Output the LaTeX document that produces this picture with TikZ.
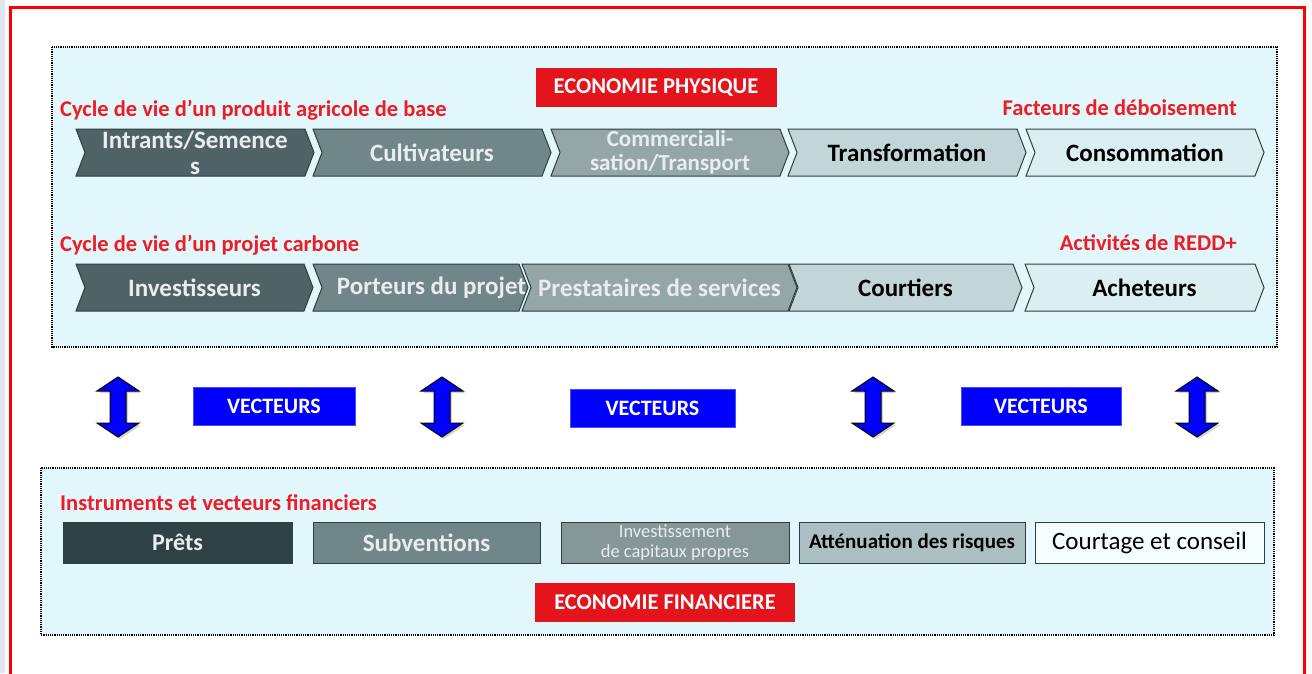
\documentclass[tikz,border=0pt]{standalone}
\usepackage{fontspec}
\setmainfont{Carlito}
\usetikzlibrary{shapes.symbols,shadows}

\definecolor{zoneblue}{HTML}{E1F7FC}
\definecolor{titlered}{HTML}{E3141B}
\definecolor{labelred}{HTML}{EE1C25}
\definecolor{stripblue}{HTML}{DDE5EF}
\definecolor{stepA}{HTML}{4F6266}
\definecolor{stepB}{HTML}{718689}
\definecolor{stepC}{HTML}{95A6A8}
\definecolor{stepD}{HTML}{C2D5D9}
\definecolor{stepE}{HTML}{DBEEF2}
\definecolor{edgegray}{HTML}{2F3E40}
\definecolor{paletext}{HTML}{E8EEF0}
\definecolor{finA}{HTML}{2E4145}
\definecolor{finC}{HTML}{869799}
\definecolor{finD}{HTML}{ACBFC3}
\definecolor{finE}{HTML}{F4FDFF}

\tikzset{
  zone/.style={fill=zoneblue, draw=black, line width=2.4pt, dash pattern=on 1.2pt off 1pt},
  chevron/.style={signal, signal to=east, signal from=west, signal pointer angle=138,
    draw=edgegray, line width=1pt, minimum height=47pt, inner sep=0pt, align=center,
    font=\fontsize{25}{26}\selectfont\bfseries},
  redlabel/.style={text=labelred, inner sep=0pt, font=\fontsize{22.5}{24}\selectfont\bfseries},
  titlebox/.style={fill=titlered, text=white, minimum height=39pt, inner sep=0pt,
    font=\fontsize{22.5}{24}\selectfont\bfseries},
  vecbox/.style={fill=blue, draw=blue!70!white, text=white, minimum height=38pt, inner sep=0pt,
    font=\fontsize{22}{24}\selectfont\bfseries},
  finbox/.style={draw=edgegray, line width=1pt, minimum height=41pt, inner sep=0pt, align=center},
  updown/.pic={
    \filldraw[fill=blue, draw=black, line width=1pt,
      drop shadow={shadow xshift=2pt, shadow yshift=-2pt, opacity=0.35}]
      (0,-30) -- (21,-16) -- (8,-16) -- (8,16) -- (21,16) -- (0,30)
      -- (-21,16) -- (-8,16) -- (-8,-16) -- (-21,-16) -- cycle;
  }
}

\begin{document}
\begin{tikzpicture}[x=1pt, y=-1pt]
  \useasboundingbox (0,0) rectangle (1312,673);

  % frame
  \fill[stripblue] (0,0) rectangle (5,673);
  \draw[red, line width=3pt] (10,7) rectangle (1304,700);

  % economie physique
  \draw[zone] (52,47) rectangle (1277,347);
  \node[titlebox, minimum width=241pt] (phys) at (656,87.5) {ECONOMIE PHYSIQUE};
  \node[redlabel, anchor=west] (agri) at (60,110) {Cycle de vie d’un produit agricole de base};
  \node[redlabel, anchor=east] (debois) at (1237,108) {Facteurs de déboisement};

  \node[chevron, fill=stepE, minimum width=238pt] (conso) at (1145,152.5) {Consommation};
  \node[chevron, fill=stepD, minimum width=238pt] (transfo) at (907,152.5) {Transformation};
  \node[chevron, fill=stepC, text=paletext, minimum width=238pt,
    font=\fontsize{23}{24}\selectfont\bfseries] (comm) at (670,152.5) {Commerciali-\\sation/Transport};
  \node[chevron, fill=stepB, text=paletext, minimum width=238pt] (cult) at (432,152.5) {Cultivateurs};
  \node[chevron, fill=stepA, text=paletext, minimum width=238pt] (intr) at (195,152.5) {Intrants/Semence\\s};

  \node[redlabel, anchor=west] (carb) at (60,245) {Cycle de vie d’un projet carbone};
  \node[redlabel, anchor=east] (redd) at (1237,243) {Activités de REDD+};

  \node[chevron, fill=stepE, minimum width=239pt] (achet) at (1144.5,287.5) {Acheteurs};
  \node[chevron, fill=stepD, minimum width=233pt] (court) at (905.5,287.5) {Courtiers};
  \node[chevron, fill=stepC, text=paletext, minimum width=275pt] (prest) at (659.5,287.5) {Prestataires de services};
  \node[chevron, fill=stepB, text=paletext, minimum width=215pt] (port) at (420.5,287.5) {\makebox[0pt]{\hspace*{22pt}Porteurs du projet}};
  \node[chevron, fill=stepA, text=paletext, minimum width=237pt] (invest) at (194.5,287.5) {Investisseurs};

  % vecteurs
  \pic at (118,407) {updown};
  \node[vecbox, minimum width=162pt] (vecA) at (274,406.5) {VECTEURS};
  \pic at (442,407) {updown};
  \node[vecbox, minimum width=165pt] (vecB) at (652.5,408.5) {VECTEURS};
  \pic at (873,407) {updown};
  \node[vecbox, minimum width=160pt] (vecC) at (1041,406.5) {VECTEURS};
  \pic at (1197,407) {updown};

  % economie financiere
  \draw[zone] (41,468) rectangle (1274,635);
  \node[redlabel, anchor=west] (instr) at (60,503) {Instruments et vecteurs financiers};

  \node[finbox, fill=finA, text=paletext, minimum width=229pt, font=\fontsize{24}{26}\selectfont\bfseries] (prets) at (177.5,542.5) {Prêts};
  \node[finbox, fill=stepB, text=paletext, minimum width=227pt, font=\fontsize{25}{26}\selectfont\bfseries] (subv) at (426.5,542.5) {Subventions};
  \node[finbox, fill=finC, text=paletext, minimum width=228pt, font=\fontsize{18.5}{20}\selectfont] (capit) at (675,542.5) {Investissement\\de capitaux propres};
  \node[finbox, fill=finD, minimum width=226pt, font=\fontsize{21}{24}\selectfont\bfseries] (attn) at (912,542.5) {Atténuation des risques};
  \node[finbox, fill=finE, minimum width=229pt, font=\fontsize{25}{26}\selectfont] (conseil) at (1149.5,542.5) {Courtage et conseil};

  \node[titlebox, minimum width=260pt] (fin) at (665,602.5) {ECONOMIE FINANCIERE};
\end{tikzpicture}
\end{document}
